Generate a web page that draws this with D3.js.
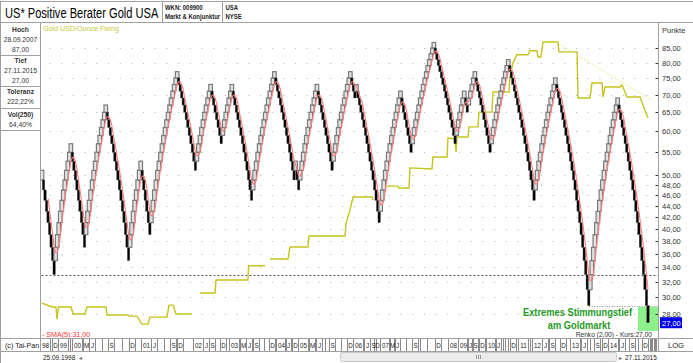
<!DOCTYPE html>
<html><head><meta charset="utf-8">
<script src="https://cdn.jsdelivr.net/npm/d3@7"></script>
<style>
body{margin:0;background:#fff}
svg{display:block}
text{font-family:"Liberation Sans",Arial,sans-serif}
</style>
</head><body>
<svg id="c" width="693" height="363"></svg>
<script>
// ---------------- DATA ----------------
const title = "US* Positive Berater Gold USA";
const brickSize = 2;
const lastPrice = 27;
// Renko swing levels (reversal points) of the sentiment index
const renkoPivots = [49,51,33,57,37,67,35,53,39,77,51,73,57,73,45,77,49,53,47,73,51,77,69,73,41,71,55,87,57,71,65,77,55,81,45,75,29,69,27];
const priceTicks = [85,80,75,70,65,60,55,50,48,46,44,42,40,38,36,34,32,30,28];
const supportLevel = 33;
const lowLevel = 29;
// Gold USD/Ounce fixing, [brick column, USD]; null = gap
const goldSeries = [
 [0,295],[6.6,287],[9.2,287],[9.9,263],[10.9,287],[19.1,287],[20.4,273],[28.3,273],[29.6,287],[42.1,287],
 [42.8,271],[56.6,271],[57.3,269],[62.5,269],[65.8,254],[69.8,254],[71.1,267],[82.3,267],[83.6,291],[86.3,291],
 [88.2,273],[98.8,273],null,
 [104,317],[113.9,317],[114.6,348],[135.6,348],[136,385],[146.8,385],null,
 [150.1,404],[162,404],[163.3,440],[175.1,440],[175.8,476],[199.5,476],[200.2,522],[202.8,573],[204.8,628],
 [217.3,628],[217.9,615],null,
 [227.1,679],[234.4,679],[235,670],[241.6,670],[242.3,773],[256.8,767],[257.4,835],[266.7,835],[267.3,956],
 [271.9,950],[272.6,866],[273.2,963],[280.5,963],[281.1,1035],[287.1,1035],[287.7,1150],[296.3,1150],
 [296.9,1327],[307.5,1327],[308.1,1477],[310.1,1632],[312.7,1730],[320,1730],[321.3,1780],[325.9,1780],
 [326.6,1703],[328.5,1703],[329.9,1895],[339.7,1895],[340.4,1766],[352.3,1766],[352.9,1271],[360.8,1271],
 [362.1,1415],[368.7,1415],[369.4,1280],[370.7,1375],[380.6,1375],[381.9,1395],[385.2,1280],[393.7,1280],[399,1103]
];
const goldTrend = [[338.4,1895],[401.6,1250]];
// x-axis labels: [label, brick column, month number since Jan 1998]
const xLabels = [
 ["98",2.0,8],["D",8.6,11],["99",13.8,12],["00",23.0,24],["M",29.0,26],["J",32.9,29],["S",45.4,32],["D",59.3,35],["01",68.5,36],["J",73.7,41],
 ["S",86.3,44],["D",90.9,47],["02",102.7,48],["J",108.0,53],["S",112.0,56],["D",119.2,59],["03",126.4,60],["M",132.3,62],["J",136.3,65],["S",140.9,68],
 ["D",151.4,71],["04",157.4,72],["J",162.0,77],["D",166.6,83],["05",171.8,84],["M",177.8,86],["J",182.4,89],["S",190.9,92],["D",202.8,95],["06",208.1,96],
 ["J",214.0,101],["S",217.9,104],["D",220.6,107],["07",225.9,108],["M",230.4,110],["J",233.7,113],["S",245.6,116],["D",260.7,119],["08",270.6,120],["09",277.2,132],
 ["J",281.8,137],["S",285.1,140],["D",289.7,143],["10",295.6,144],["J",300.2,149],["D",310.1,155],["11",316.7,156],["12",325.9,168],["J",331.2,173],["S",335.8,176],
 ["D",343.0,179],["13",350.9,180],["J",356.8,185],["S",365.4,188],["D",370.7,191],["14",375.9,192],["J",381.9,197],["S",388.5,200],["D",397.1,203]
];
const lastMonth = 214; // Nov 2015
const infoPanel = [["Hoch","28.09.2007","87,00"],["Tief","27.11.2015","27,00"],["Toleranz","222,22%"],["Vol(250)","64,40%"]];
const headerInfo = [["WKN: 009900","Markt & Konjunktur"],["USA","NYSE"]];
const startDate = "25.09.1998", endDate = "27.11.2015";
const smaPeriod = 5;
const annotation = ["Extremes Stimmungstief","am Goldmarkt"];

// ---------------- BUILD RENKO ----------------
const bricks = [];
{
  let level = renkoPivots[0], dir = 0;
  for (let k = 1; k < renkoPivots.length; k++) {
    const target = renkoPivots[k];
    const d = target > level ? 1 : -1;
    let cur = (dir !== 0 && d !== dir) ? level + d * brickSize : level;
    while ((d > 0 && cur < target) || (d < 0 && cur > target)) {
      bricks.push({o: cur, c: cur + d * brickSize, d});
      cur += d * brickSize;
    }
    level = target; dir = d;
  }
}
const closes = bricks.map(b => b.c);
const sma = closes.map((c, i) => i < smaPeriod - 1 ? null : d3.mean(closes.slice(i - smaPeriod + 1, i + 1)));

// ---------------- LAYOUT ----------------
const svg = d3.select("#c");
const W = 693, H = 363;
const L = 40.5, R = 658.5, T = 22.5, B = 338.5, SB = 351.5;
const lineCol = "#a0a0a0";
const fmt = v => d3.format(".2f")(v).replace(".", ",");

const x = d3.scaleLinear().domain([0, bricks.length - 1]).range([42, 648]);
const y = d3.scaleLog().domain([85, 28]).range([48, 314]);
const gy = d3.scaleLog().domain([250, 2000]).range([326.4, 34.4]);

svg.append("rect").attr("width", W).attr("height", H).attr("fill", "#fff");

const defs = svg.append("defs");
defs.append("clipPath").attr("id", "plot").append("rect")
  .attr("x", L + 0.5).attr("y", T + 0.5).attr("width", R - L - 1).attr("height", B - T - 1);

// condensed text helper (horizontal scale like the original narrow font)
function ctext(g, px, py, str, size, sx, opts = {}) {
  const t = g.append("text").attr("transform", `translate(${px},${py}) scale(${sx},1)`)
    .attr("font-size", size).text(str);
  Object.entries(opts).forEach(([k, v]) => t.attr(k, v));
  return t;
}

// grid
const grid = svg.append("g");
priceTicks.forEach(t => {
  grid.append("line").attr("x1", L + 9).attr("x2", R - 2).attr("y1", Math.round(y(t)) + 0.5).attr("y2", Math.round(y(t)) + 0.5)
    .attr("stroke", "#b0b0b0").attr("stroke-width", 1).attr("stroke-dasharray", "1,10.7");
});
// support dashed line
svg.append("line").attr("x1", L + 1).attr("x2", R).attr("y1", Math.round(y(supportLevel)) + 0.5).attr("y2", Math.round(y(supportLevel)) + 0.5)
  .attr("stroke", "#606060").attr("stroke-dasharray", "2,2");

const plot = svg.append("g").attr("clip-path", "url(#plot)");

// green highlight box
const gx0 = Math.round(x(bricks.length - 1) - 10);
plot.append("rect").attr("x", gx0).attr("y", Math.round(y(lowLevel)) + 1)
  .attr("width", R - gx0 - 0.5).attr("height", Math.round(y(26.2) - y(lowLevel)))
  .attr("fill", "#8cf08c");
// low level dotted line
plot.append("line").attr("x1", x(361) - 1).attr("x2", R).attr("y1", Math.round(y(lowLevel)) + 0.5).attr("y2", Math.round(y(lowLevel)) + 0.5)
  .attr("stroke", "#8a8a8a").attr("stroke-dasharray", "1,1.5");

// gold line
const gLine = d3.line().defined(d => d !== null).x(d => x(d[0])).y(d => gy(d[1]));
plot.append("path").attr("d", gLine(goldSeries)).attr("fill", "none").attr("stroke", "#c4c41c").attr("stroke-width", 1.4);
plot.append("path").attr("d", gLine(goldTrend)).attr("fill", "none").attr("stroke", "#e6e67a").attr("stroke-width", 1).attr("stroke-dasharray", "1.5,1.5");

// bricks
plot.selectAll("rect.brick").data(bricks).join("rect")
  .attr("class", "brick")
  .attr("x", (d, i) => d.d > 0 ? x(i) - 1.8 : x(i) - 1.2)
  .attr("width", d => d.d > 0 ? 3.6 : 2.4)
  .attr("y", d => y(Math.max(d.o, d.c)))
  .attr("height", d => y(Math.min(d.o, d.c)) - y(Math.max(d.o, d.c)))
  .attr("fill", d => d.d > 0 ? "#e2e2e2" : "#000")
  .attr("stroke", d => d.d > 0 ? "#7a7a7a" : "#505050")
  .attr("stroke-width", d => d.d > 0 ? 1.2 : 0.4);

// SMA
const sLine = d3.line().defined(d => d !== null).x((d, i) => x(i)).y(d => y(d));
plot.append("path").attr("d", sLine(sma)).attr("fill", "none").attr("stroke", "#ff7a7a").attr("stroke-width", 1.1);

// annotation
const ann = svg.append("g").attr("fill", "#1f9a1f").attr("font-weight", "bold").attr("text-anchor", "middle");
ctext(ann, 577.5, 316, annotation[0], 11.5, 0.81);
ctext(ann, 579, 328.5, annotation[1], 11.5, 0.81);

ctext(svg, 652, 337, `Renko (${fmt(brickSize)}) - Kurs:${fmt(lastPrice)}`, 7, 0.95, {"text-anchor": "end", fill: "#333"});
ctext(svg, 42, 336.5, `- SMA(${smaPeriod}):${fmt(sma[sma.length - 1])}`, 7.5, 0.95, {fill: "#ff3030"});
ctext(svg, 43, 31, "Gold USD/Ounce Fixing", 7.5, 0.95, {fill: "#c8c83c"});

// right axis
const ax = svg.append("g");
ax.append("text").attr("x", 662).attr("y", 33).attr("font-size", 7.5).attr("fill", "#333").text("Punkte");
priceTicks.forEach(t => {
  const yy = Math.round(y(t)) + 0.5;
  ax.append("line").attr("x1", R - 3).attr("x2", R).attr("y1", yy).attr("y2", yy).attr("stroke", "#333");
  ax.append("text").attr("x", 662).attr("y", yy + 2.7).attr("font-size", 7.5).attr("fill", "#333").text(fmt(t));
});
{
  const yy = y(lastPrice);
  ax.append("rect").attr("x", 660).attr("y", yy - 5.5).attr("width", 22).attr("height", 11).attr("fill", "#0000ee");
  ax.append("text").attr("x", 662).attr("y", yy + 3).attr("font-size", 7.5).attr("fill", "#fff").text(fmt(lastPrice));
}

// x axis strip: month separators between labelled months, then labels
const xa = svg.append("g").attr("shape-rendering", "crispEdges");
const labBoxes = xLabels.map(([lab, c, m]) => {
  const w = lab.length * 3.9 + 2;
  const x0 = Math.round(x(c) - w / 2);
  return {lab, m, x0, x1: x0 + Math.round(w), cx: x(c)};
});
const sepXs = [];
labBoxes.forEach((b, i) => {
  sepXs.push(b.x0, b.x1);
  const nx = i < labBoxes.length - 1 ? labBoxes[i + 1] : {m: lastMonth + 1, x0: R - 1};
  const span = nx.m - b.m;
  for (let k = 1; k < span; k++) {
    const px = Math.round(b.x0 + (nx.x0 - b.x0) * k / span);
    if (px > b.x1 + 1 && px < nx.x0 - 1) sepXs.push(px);
  }
});
sepXs.forEach(px => xa.append("line").attr("x1", px + 0.5).attr("x2", px + 0.5).attr("y1", B).attr("y2", SB).attr("stroke", "#8a8a8a"));
labBoxes.forEach(b => {
  ctext(xa, (b.x0 + b.x1) / 2 + 0.5, 348, b.lab, 7, 0.9, {"text-anchor": "middle", fill: "#222"});
});
ctext(svg, 5, 348, "(c) Tai-Pan", 7.5, 0.95, {fill: "#222"});
svg.append("text").attr("x", 676).attr("y", 348).attr("text-anchor", "middle").attr("font-size", 7.5).attr("fill", "#222").text("LOG");

// frame lines
const fr = svg.append("g").attr("stroke", lineCol).attr("stroke-width", 1).attr("fill", "none").attr("shape-rendering", "crispEdges");
fr.append("line").attr("x1", 0).attr("x2", W).attr("y1", 1.5).attr("y2", 1.5);
fr.append("line").attr("x1", 0).attr("x2", W).attr("y1", T).attr("y2", T);
fr.append("line").attr("x1", 162.5).attr("x2", 162.5).attr("y1", 1.5).attr("y2", T);
fr.append("line").attr("x1", 222.5).attr("x2", 222.5).attr("y1", 1.5).attr("y2", T);
fr.append("line").attr("x1", L).attr("x2", L).attr("y1", T).attr("y2", SB);
fr.append("line").attr("x1", R).attr("x2", R).attr("y1", T).attr("y2", SB);
fr.append("line").attr("x1", 0).attr("x2", W).attr("y1", B).attr("y2", B);
fr.append("line").attr("x1", 0).attr("x2", W).attr("y1", SB).attr("y2", SB);
fr.append("line").attr("x1", 0.5).attr("x2", 0.5).attr("y1", 1.5).attr("y2", H);
[55.5, 86.5, 108.5, 130.5].forEach(v => fr.append("line").attr("x1", 0).attr("x2", L).attr("y1", v).attr("y2", v));

// header
ctext(svg, 5, 17.5, title, 14.5, 0.765, {fill: "#000"});
const hx = [165, 225.5];
headerInfo.forEach((pair, k) => {
  ctext(svg, hx[k], 9.5, pair[0], 7, 0.85, {"font-weight": "bold", fill: "#222"});
  ctext(svg, hx[k], 19, pair[1], 7, 0.85, {"font-weight": "bold", fill: "#222"});
});

// info panel
const ip = svg.append("g").attr("text-anchor", "middle").attr("fill", "#333");
const rowY = [[32, 42, 52], [63, 73, 83], [94, 104], [117, 127]];
infoPanel.forEach((rows, k) => {
  rows.forEach((s, j) => {
    ctext(ip, 20.5, rowY[k][j], s, 7.5, 0.9, {"font-weight": j === 0 ? "bold" : "normal"});
  });
});

// scrollbar row
ctext(svg, 43, 360, startDate, 7.5, 0.86, {fill: "#222"});
svg.append("text").attr("x", 79).attr("y", 360).attr("font-size", 6).attr("fill", "#666").text("\u25C2");
svg.append("rect").attr("x", 340.5).attr("y", 352.5).attr("width", 276).attr("height", 9).attr("rx", 2)
  .attr("fill", "#ececec").attr("stroke", "#c8c8c8");
[-2, 0, 2].forEach(dx => svg.append("line").attr("x1", 478.5 + dx).attr("x2", 478.5 + dx).attr("y1", 355).attr("y2", 359).attr("stroke", "#999"));
svg.append("text").attr("x", 619).attr("y", 360).attr("font-size", 6).attr("fill", "#666").text("\u25B8");
ctext(svg, 625, 360, endDate, 7.5, 0.86, {fill: "#222"});
</script>
</body></html>
